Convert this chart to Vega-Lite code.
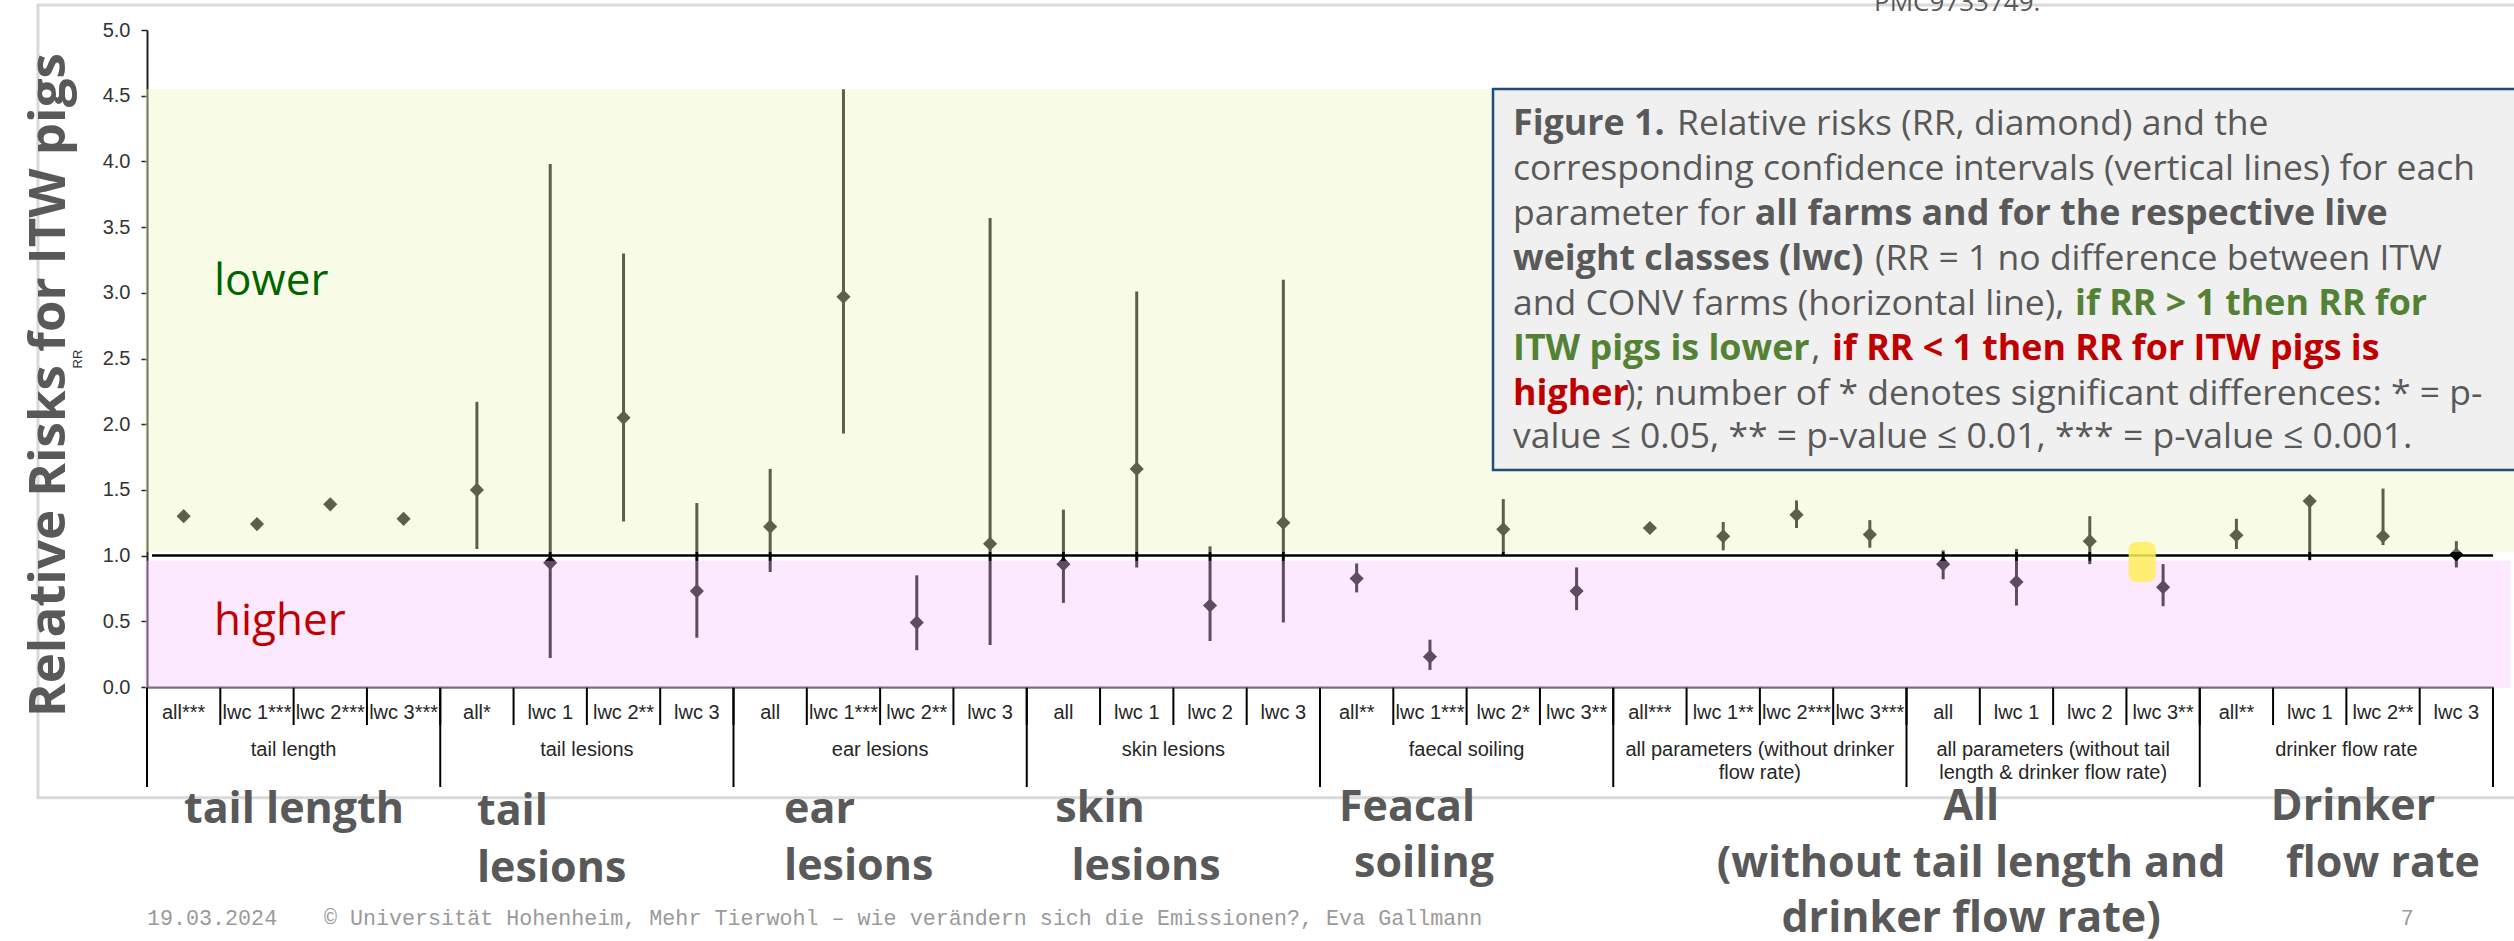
{
  "$schema": "https://vega.github.io/schema/vega-lite/v6.json",
  "width": 2346,
  "height": 657,
  "autosize": {"type": "none"},
  "padding": {"left": 147, "top": 30, "right": 21, "bottom": 254},
  "background": "white",
  "config": {"view": {"stroke": null}},
  "datasets": {
    "rr": [
      {"group": "tail length", "cat": "tail length|all***", "rr": 1.30, "lo": 1.27, "hi": 1.33},
      {"group": "tail length", "cat": "tail length|lwc 1***", "rr": 1.24, "lo": 1.21, "hi": 1.27},
      {"group": "tail length", "cat": "tail length|lwc 2***", "rr": 1.39, "lo": 1.36, "hi": 1.42},
      {"group": "tail length", "cat": "tail length|lwc 3***", "rr": 1.28, "lo": 1.25, "hi": 1.31},
      {"group": "tail lesions", "cat": "tail lesions|all*", "rr": 1.50, "lo": 1.05, "hi": 2.17},
      {"group": "tail lesions", "cat": "tail lesions|lwc 1", "rr": 0.945, "lo": 0.22, "hi": 3.98},
      {"group": "tail lesions", "cat": "tail lesions|lwc 2**", "rr": 2.05, "lo": 1.26, "hi": 3.30},
      {"group": "tail lesions", "cat": "tail lesions|lwc 3", "rr": 0.73, "lo": 0.375, "hi": 1.40},
      {"group": "ear lesions", "cat": "ear lesions|all", "rr": 1.22, "lo": 0.875, "hi": 1.66},
      {"group": "ear lesions", "cat": "ear lesions|lwc 1***", "rr": 2.97, "lo": 1.93, "hi": 4.55},
      {"group": "ear lesions", "cat": "ear lesions|lwc 2**", "rr": 0.49, "lo": 0.28, "hi": 0.85},
      {"group": "ear lesions", "cat": "ear lesions|lwc 3", "rr": 1.09, "lo": 0.32, "hi": 3.57},
      {"group": "skin lesions", "cat": "skin lesions|all", "rr": 0.935, "lo": 0.64, "hi": 1.35},
      {"group": "skin lesions", "cat": "skin lesions|lwc 1", "rr": 1.66, "lo": 0.91, "hi": 3.01},
      {"group": "skin lesions", "cat": "skin lesions|lwc 2", "rr": 0.62, "lo": 0.35, "hi": 1.07},
      {"group": "skin lesions", "cat": "skin lesions|lwc 3", "rr": 1.25, "lo": 0.49, "hi": 3.10},
      {"group": "faecal soiling", "cat": "faecal soiling|all**", "rr": 0.826, "lo": 0.72, "hi": 0.94},
      {"group": "faecal soiling", "cat": "faecal soiling|lwc 1***", "rr": 0.23, "lo": 0.13, "hi": 0.36},
      {"group": "faecal soiling", "cat": "faecal soiling|lwc 2*", "rr": 1.20, "lo": 1.00, "hi": 1.43},
      {"group": "faecal soiling", "cat": "faecal soiling|lwc 3**", "rr": 0.73, "lo": 0.585, "hi": 0.91},
      {"group": "all parameters (without drinker\nflow rate)", "cat": "all parameters (without drinker flow rate)|all***", "rr": 1.21, "lo": 1.18, "hi": 1.24},
      {"group": "all parameters (without drinker\nflow rate)", "cat": "all parameters (without drinker flow rate)|lwc 1**", "rr": 1.147, "lo": 1.04, "hi": 1.256},
      {"group": "all parameters (without drinker\nflow rate)", "cat": "all parameters (without drinker flow rate)|lwc 2***", "rr": 1.31, "lo": 1.21, "hi": 1.42},
      {"group": "all parameters (without drinker\nflow rate)", "cat": "all parameters (without drinker flow rate)|lwc 3***", "rr": 1.16, "lo": 1.06, "hi": 1.27},
      {"group": "all parameters (without tail\nlength & drinker flow rate)", "cat": "all parameters (without tail length & drinker flow rate)|all", "rr": 0.935, "lo": 0.82, "hi": 1.04},
      {"group": "all parameters (without tail\nlength & drinker flow rate)", "cat": "all parameters (without tail length & drinker flow rate)|lwc 1", "rr": 0.80, "lo": 0.62, "hi": 1.05},
      {"group": "all parameters (without tail\nlength & drinker flow rate)", "cat": "all parameters (without tail length & drinker flow rate)|lwc 2", "rr": 1.11, "lo": 0.935, "hi": 1.30},
      {"group": "all parameters (without tail\nlength & drinker flow rate)", "cat": "all parameters (without tail length & drinker flow rate)|lwc 3**", "rr": 0.76, "lo": 0.615, "hi": 0.935},
      {"group": "drinker flow rate", "cat": "drinker flow rate|all**", "rr": 1.155, "lo": 1.05, "hi": 1.28},
      {"group": "drinker flow rate", "cat": "drinker flow rate|lwc 1", "rr": 1.415, "lo": 0.965, "hi": 1.43},
      {"group": "drinker flow rate", "cat": "drinker flow rate|lwc 2**", "rr": 1.147, "lo": 1.08, "hi": 1.51},
      {"group": "drinker flow rate", "cat": "drinker flow rate|lwc 3", "rr": 1.008, "lo": 0.91, "hi": 1.11}
    ],
    "one": [{}]
  },
  "layer": [
    {
      "data": {"name": "rr"},
      "layer": [
        {
          "mark": {"type": "rule", "color": "#000000", "strokeWidth": 3},
          "encoding": {
            "x": {
              "field": "cat", "type": "nominal", "sort": null,
              "scale": {"type": "band", "paddingInner": 0, "paddingOuter": 0},
              "axis": {
                "title": null, "labelExpr": "split(datum.label, '|')[1]", "labelAngle": 0,
                "ticks": false, "tickSize": 0, "labelPadding": 25, "labelBaseline": "middle",
                "labelFont": "Liberation Sans", "labelFontSize": 20, "labelColor": "#262626",
                "labelOverlap": false, "labelBound": false, "labelLimit": 0,
                "domainColor": "#333333", "domainWidth": 2, "grid": false
              }
            },
            "y": {
              "field": "lo", "type": "quantitative",
              "scale": {"domain": [0, 5], "nice": false, "zero": false},
              "axis": {
                "title": "RR", "grid": false,
                "values": [0, 0.25, 0.5, 0.75, 1, 1.25, 1.5, 1.75, 2, 2.25, 2.5, 2.75, 3, 3.25, 3.5, 3.75, 4, 4.25, 4.5, 4.75, 5],
                "labelExpr": "datum.value % 0.5 === 0 ? format(datum.value, '.1f') : ''",
                "tickSize": 6, "tickWidth": 1.5, "tickColor": "#222222",
                "domainColor": "#222222", "domainWidth": 2,
                "labelFont": "Liberation Sans", "labelFontSize": 20, "labelColor": "#333333",
                "labelPadding": 11, "labelOverlap": false,
                "titleFont": "Liberation Sans", "titleFontSize": 13, "titleFontWeight": "normal",
                "titleColor": "#333333", "titlePadding": 18
              }
            },
            "y2": {"field": "hi"}
          }
        },
        {
          "mark": {"type": "point", "shape": "diamond", "filled": true, "size": 200, "color": "#000000", "opacity": 1},
          "encoding": {
            "x": {"field": "cat", "type": "nominal", "sort": null},
            "y": {"field": "rr", "type": "quantitative"}
          }
        },
        {
          "mark": {"type": "rule", "color": "#000000", "strokeWidth": 2},
          "encoding": {
            "x": {"field": "cat", "type": "nominal", "sort": null, "bandPosition": 0},
            "y": {"datum": 0},
            "y2": {"datum": -0.289}
          }
        },
        {
          "transform": [{"filter": "indexof(datum.cat, '|all') > 0"}],
          "mark": {"type": "rule", "color": "#000000", "strokeWidth": 2},
          "encoding": {
            "x": {"field": "cat", "type": "nominal", "sort": null, "bandPosition": 0},
            "y": {"datum": 0},
            "y2": {"datum": -0.761}
          }
        },
        {
          "transform": [{"filter": "datum.cat === 'drinker flow rate|lwc 3'"}],
          "mark": {"type": "rule", "color": "#000000", "strokeWidth": 2},
          "encoding": {
            "x": {"field": "cat", "type": "nominal", "sort": null, "bandPosition": 1},
            "y": {"datum": 0},
            "y2": {"datum": -0.761}
          }
        },
        {
          "transform": [{"filter": "indexof(datum.cat, '|lwc 2') > 0"}],
          "mark": {"type": "text", "align": "center", "baseline": "top", "lineBreak": "\n", "lineHeight": 23, "font": "Liberation Sans", "fontSize": 20, "color": "#262626"},
          "encoding": {
            "x": {"field": "cat", "type": "nominal", "sort": null, "bandPosition": 0},
            "y": {"datum": -0.403},
            "text": {"field": "group"}
          }
        }
      ]
    },
    {
      "data": {"name": "one"},
      "layer": [
        {
          "mark": {"type": "rect", "fillOpacity": 0, "stroke": "#D9D9D9", "strokeWidth": 3},
          "encoding": {
            "x": {"datum": -1.487, "type": "quantitative", "scale": {"domain": [0, 32], "nice": false, "zero": false}, "axis": null},
            "x2": {"datum": 32.6},
            "y": {"datum": 5.19},
            "y2": {"datum": -0.843}
          }
        },
        {
          "mark": {"type": "rect", "fill": "#ECF6BE", "opacity": 0.39},
          "encoding": {
            "x": {"datum": -0.027, "axis": null},
            "x2": {"datum": 32.6},
            "y": {"datum": 4.551},
            "y2": {"datum": 1.028}
          }
        },
        {
          "mark": {"type": "rect", "fill": "#F7C3FF", "opacity": 0.38},
          "encoding": {
            "x": {"datum": -0.027, "axis": null},
            "x2": {"datum": 32.24},
            "y": {"datum": 0.96},
            "y2": {"datum": -0.008}
          }
        },
        {
          "mark": {"type": "rule", "color": "#000000", "strokeWidth": 2.5},
          "encoding": {
            "x": {"datum": 0.068, "axis": null},
            "x2": {"datum": 32},
            "y": {"datum": 1}
          }
        },
        {
          "mark": {"type": "rect", "fill": "#FFEF5A", "opacity": 0.85, "cornerRadius": 8},
          "encoding": {
            "x": {"datum": 27.03, "axis": null},
            "x2": {"datum": 27.40},
            "y": {"datum": 1.104},
            "y2": {"datum": 0.80}
          }
        },
        {
          "mark": {"type": "rect", "fill": "#F0F0F0", "stroke": "#1F4E79", "strokeWidth": 2.5},
          "encoding": {
            "x": {"datum": 18.36, "axis": null},
            "x2": {"datum": 32.6},
            "y": {"datum": 4.551},
            "y2": {"datum": 1.651}
          }
        },
        {
          "mark": {"type": "text", "align": "left", "baseline": "alphabetic", "font": "Open Sans", "fontSize": 35.8, "fontWeight": "bold", "color": "#595959"},
          "encoding": {"x": {"datum": 18.633, "axis": null}, "y": {"datum": 4.201}, "text": {"value": "Figure 1."}}
        },
        {
          "mark": {"type": "text", "align": "left", "baseline": "alphabetic", "font": "Open Sans", "fontSize": 35.5, "color": "#595959"},
          "encoding": {"x": {"datum": 20.870, "axis": null}, "y": {"datum": 4.201}, "text": {"value": "Relative risks (RR, diamond) and the"}}
        },
        {
          "mark": {"type": "text", "align": "left", "baseline": "alphabetic", "font": "Open Sans", "fontSize": 35.5, "color": "#595959"},
          "encoding": {"x": {"datum": 18.633, "axis": null}, "y": {"datum": 3.858}, "text": {"value": "corresponding confidence intervals (vertical lines) for each"}}
        },
        {
          "mark": {"type": "text", "align": "left", "baseline": "alphabetic", "font": "Open Sans", "fontSize": 35.5, "color": "#595959"},
          "encoding": {"x": {"datum": 18.633, "axis": null}, "y": {"datum": 3.516}, "text": {"value": "parameter for"}}
        },
        {
          "mark": {"type": "text", "align": "left", "baseline": "alphabetic", "font": "Open Sans", "fontSize": 35.8, "fontWeight": "bold", "color": "#595959"},
          "encoding": {"x": {"datum": 21.93, "axis": null}, "y": {"datum": 3.516}, "text": {"value": "all farms and for the respective live"}}
        },
        {
          "mark": {"type": "text", "align": "left", "baseline": "alphabetic", "font": "Open Sans", "fontSize": 35.8, "fontWeight": "bold", "color": "#595959"},
          "encoding": {"x": {"datum": 18.633, "axis": null}, "y": {"datum": 3.174}, "text": {"value": "weight classes (lwc)"}}
        },
        {
          "mark": {"type": "text", "align": "left", "baseline": "alphabetic", "font": "Open Sans", "fontSize": 35.5, "color": "#595959"},
          "encoding": {"x": {"datum": 23.57, "axis": null}, "y": {"datum": 3.174}, "text": {"value": "(RR = 1 no difference between ITW"}}
        },
        {
          "mark": {"type": "text", "align": "left", "baseline": "alphabetic", "font": "Open Sans", "fontSize": 35.5, "color": "#595959"},
          "encoding": {"x": {"datum": 18.633, "axis": null}, "y": {"datum": 2.831}, "text": {"value": "and CONV farms (horizontal line),"}}
        },
        {
          "mark": {"type": "text", "align": "left", "baseline": "alphabetic", "font": "Open Sans", "fontSize": 35.8, "fontWeight": "bold", "color": "#548235"},
          "encoding": {"x": {"datum": 26.299, "axis": null}, "y": {"datum": 2.831}, "text": {"value": "if RR > 1 then RR for"}}
        },
        {
          "mark": {"type": "text", "align": "left", "baseline": "alphabetic", "font": "Open Sans", "fontSize": 35.8, "fontWeight": "bold", "color": "#548235"},
          "encoding": {"x": {"datum": 18.633, "axis": null}, "y": {"datum": 2.489}, "text": {"value": "ITW pigs is lower"}}
        },
        {
          "mark": {"type": "text", "align": "left", "baseline": "alphabetic", "font": "Open Sans", "fontSize": 35.5, "color": "#595959"},
          "encoding": {"x": {"datum": 22.70, "axis": null}, "y": {"datum": 2.489}, "text": {"value": ","}}
        },
        {
          "mark": {"type": "text", "align": "left", "baseline": "alphabetic", "font": "Open Sans", "fontSize": 35.8, "fontWeight": "bold", "color": "#C00000"},
          "encoding": {"x": {"datum": 22.985, "axis": null}, "y": {"datum": 2.489}, "text": {"value": "if RR < 1 then RR for ITW pigs is"}}
        },
        {
          "mark": {"type": "text", "align": "left", "baseline": "alphabetic", "font": "Open Sans", "fontSize": 35.8, "fontWeight": "bold", "color": "#C00000"},
          "encoding": {"x": {"datum": 18.633, "axis": null}, "y": {"datum": 2.146}, "text": {"value": "higher"}}
        },
        {
          "mark": {"type": "text", "align": "left", "baseline": "alphabetic", "font": "Open Sans", "fontSize": 35.5, "color": "#595959"},
          "encoding": {"x": {"datum": 20.161, "axis": null}, "y": {"datum": 2.146}, "text": {"value": "); number of * denotes significant differences: * = p-"}}
        },
        {
          "mark": {"type": "text", "align": "left", "baseline": "alphabetic", "font": "Open Sans", "fontSize": 35.5, "color": "#595959"},
          "encoding": {"x": {"datum": 18.633, "axis": null}, "y": {"datum": 1.819}, "text": {"value": "value ≤ 0.05, ** = p-value ≤ 0.01, *** = p-value ≤ 0.001."}}
        },
        {
          "mark": {"type": "text", "align": "left", "baseline": "alphabetic", "font": "Open Sans", "fontSize": 44, "color": "#006400"},
          "encoding": {"x": {"datum": 0.914, "axis": null}, "y": {"datum": 2.983}, "text": {"value": "lower"}}
        },
        {
          "mark": {"type": "text", "align": "left", "baseline": "alphabetic", "font": "Open Sans", "fontSize": 44, "color": "#C00000"},
          "encoding": {"x": {"datum": 0.914, "axis": null}, "y": {"datum": 0.396}, "text": {"value": "higher"}}
        },
        {
          "mark": {"type": "text", "align": "center", "baseline": "middle", "angle": 270, "font": "Open Sans", "fontSize": 51, "fontWeight": "bold", "color": "#595959"},
          "encoding": {"x": {"datum": -1.323, "axis": null}, "y": {"datum": 2.298}, "text": {"value": "Relative Risks for ITW pigs"}}
        },
        {
          "mark": {"type": "text", "align": "center", "baseline": "alphabetic", "font": "Open Sans", "fontSize": 43, "fontWeight": "bold", "color": "#595959"},
          "encoding": {"x": {"datum": 2.005, "axis": null}, "y": {"datum": -1.035}, "text": {"value": "tail length"}}
        },
        {
          "mark": {"type": "text", "align": "left", "baseline": "alphabetic", "font": "Open Sans", "fontSize": 43, "fontWeight": "bold", "color": "#595959"},
          "encoding": {"x": {"datum": 4.501, "axis": null}, "y": {"datum": -1.050}, "text": {"value": "tail"}}
        },
        {
          "mark": {"type": "text", "align": "left", "baseline": "alphabetic", "font": "Open Sans", "fontSize": 43, "fontWeight": "bold", "color": "#595959"},
          "encoding": {"x": {"datum": 4.501, "axis": null}, "y": {"datum": -1.484}, "text": {"value": "lesions"}}
        },
        {
          "mark": {"type": "text", "align": "left", "baseline": "alphabetic", "font": "Open Sans", "fontSize": 43, "fontWeight": "bold", "color": "#595959"},
          "encoding": {"x": {"datum": 8.689, "axis": null}, "y": {"datum": -1.035}, "text": {"value": "ear"}}
        },
        {
          "mark": {"type": "text", "align": "left", "baseline": "alphabetic", "font": "Open Sans", "fontSize": 43, "fontWeight": "bold", "color": "#595959"},
          "encoding": {"x": {"datum": 8.689, "axis": null}, "y": {"datum": -1.469}, "text": {"value": "lesions"}}
        },
        {
          "mark": {"type": "text", "align": "center", "baseline": "alphabetic", "font": "Open Sans", "fontSize": 43, "fontWeight": "bold", "color": "#595959"},
          "encoding": {"x": {"datum": 13.0, "axis": null}, "y": {"datum": -1.027}, "text": {"value": "skin"}}
        },
        {
          "mark": {"type": "text", "align": "center", "baseline": "alphabetic", "font": "Open Sans", "fontSize": 43, "fontWeight": "bold", "color": "#595959"},
          "encoding": {"x": {"datum": 13.627, "axis": null}, "y": {"datum": -1.469}, "text": {"value": "lesions"}}
        },
        {
          "mark": {"type": "text", "align": "center", "baseline": "alphabetic", "font": "Open Sans", "fontSize": 43, "fontWeight": "bold", "color": "#595959"},
          "encoding": {"x": {"datum": 17.187, "axis": null}, "y": {"datum": -1.020}, "text": {"value": "Feacal"}}
        },
        {
          "mark": {"type": "text", "align": "center", "baseline": "alphabetic", "font": "Open Sans", "fontSize": 43, "fontWeight": "bold", "color": "#595959"},
          "encoding": {"x": {"datum": 17.419, "axis": null}, "y": {"datum": -1.446}, "text": {"value": "soiling"}}
        },
        {
          "mark": {"type": "text", "align": "center", "baseline": "alphabetic", "font": "Open Sans", "fontSize": 43, "fontWeight": "bold", "color": "#595959"},
          "encoding": {"x": {"datum": 24.881, "axis": null}, "y": {"datum": -1.012}, "text": {"value": "All"}}
        },
        {
          "mark": {"type": "text", "align": "center", "baseline": "alphabetic", "font": "Open Sans", "fontSize": 43, "fontWeight": "bold", "color": "#595959"},
          "encoding": {"x": {"datum": 24.881, "axis": null}, "y": {"datum": -1.446}, "text": {"value": "(without tail length and"}}
        },
        {
          "mark": {"type": "text", "align": "center", "baseline": "alphabetic", "font": "Open Sans", "fontSize": 43, "fontWeight": "bold", "color": "#595959"},
          "encoding": {"x": {"datum": 24.881, "axis": null}, "y": {"datum": -1.865}, "text": {"value": "drinker flow rate)"}}
        },
        {
          "mark": {"type": "text", "align": "center", "baseline": "alphabetic", "font": "Open Sans", "fontSize": 43, "fontWeight": "bold", "color": "#595959"},
          "encoding": {"x": {"datum": 30.091, "axis": null}, "y": {"datum": -1.012}, "text": {"value": "Drinker"}}
        },
        {
          "mark": {"type": "text", "align": "center", "baseline": "alphabetic", "font": "Open Sans", "fontSize": 43, "fontWeight": "bold", "color": "#595959"},
          "encoding": {"x": {"datum": 30.50, "axis": null}, "y": {"datum": -1.446}, "text": {"value": "flow rate"}}
        },
        {
          "mark": {"type": "text", "align": "left", "baseline": "alphabetic", "font": "Liberation Mono", "fontSize": 21.7, "color": "#9A9A9A"},
          "encoding": {"x": {"datum": 0, "axis": null}, "y": {"datum": -1.811}, "text": {"value": "19.03.2024"}}
        },
        {
          "mark": {"type": "text", "align": "left", "baseline": "alphabetic", "font": "Liberation Mono", "fontSize": 21.7, "color": "#9A9A9A"},
          "encoding": {"x": {"datum": 2.414, "axis": null}, "y": {"datum": -1.811}, "text": {"value": "© Universität Hohenheim, Mehr Tierwohl – wie verändern sich die Emissionen?, Eva Gallmann"}}
        },
        {
          "mark": {"type": "text", "align": "center", "baseline": "alphabetic", "font": "Liberation Mono", "fontSize": 21.7, "color": "#9A9A9A"},
          "encoding": {"x": {"datum": 30.83, "axis": null}, "y": {"datum": -1.811}, "text": {"value": "7"}}
        },
        {
          "mark": {"type": "text", "align": "left", "baseline": "alphabetic", "font": "Open Sans", "fontSize": 26, "color": "#595959"},
          "encoding": {"x": {"datum": 23.558, "axis": null}, "y": {"datum": 5.145}, "text": {"value": "PMC9733749."}}
        }
      ]
    }
  ],
  "resolve": {"scale": {"x": "independent"}, "axis": {"x": "independent"}}
}
